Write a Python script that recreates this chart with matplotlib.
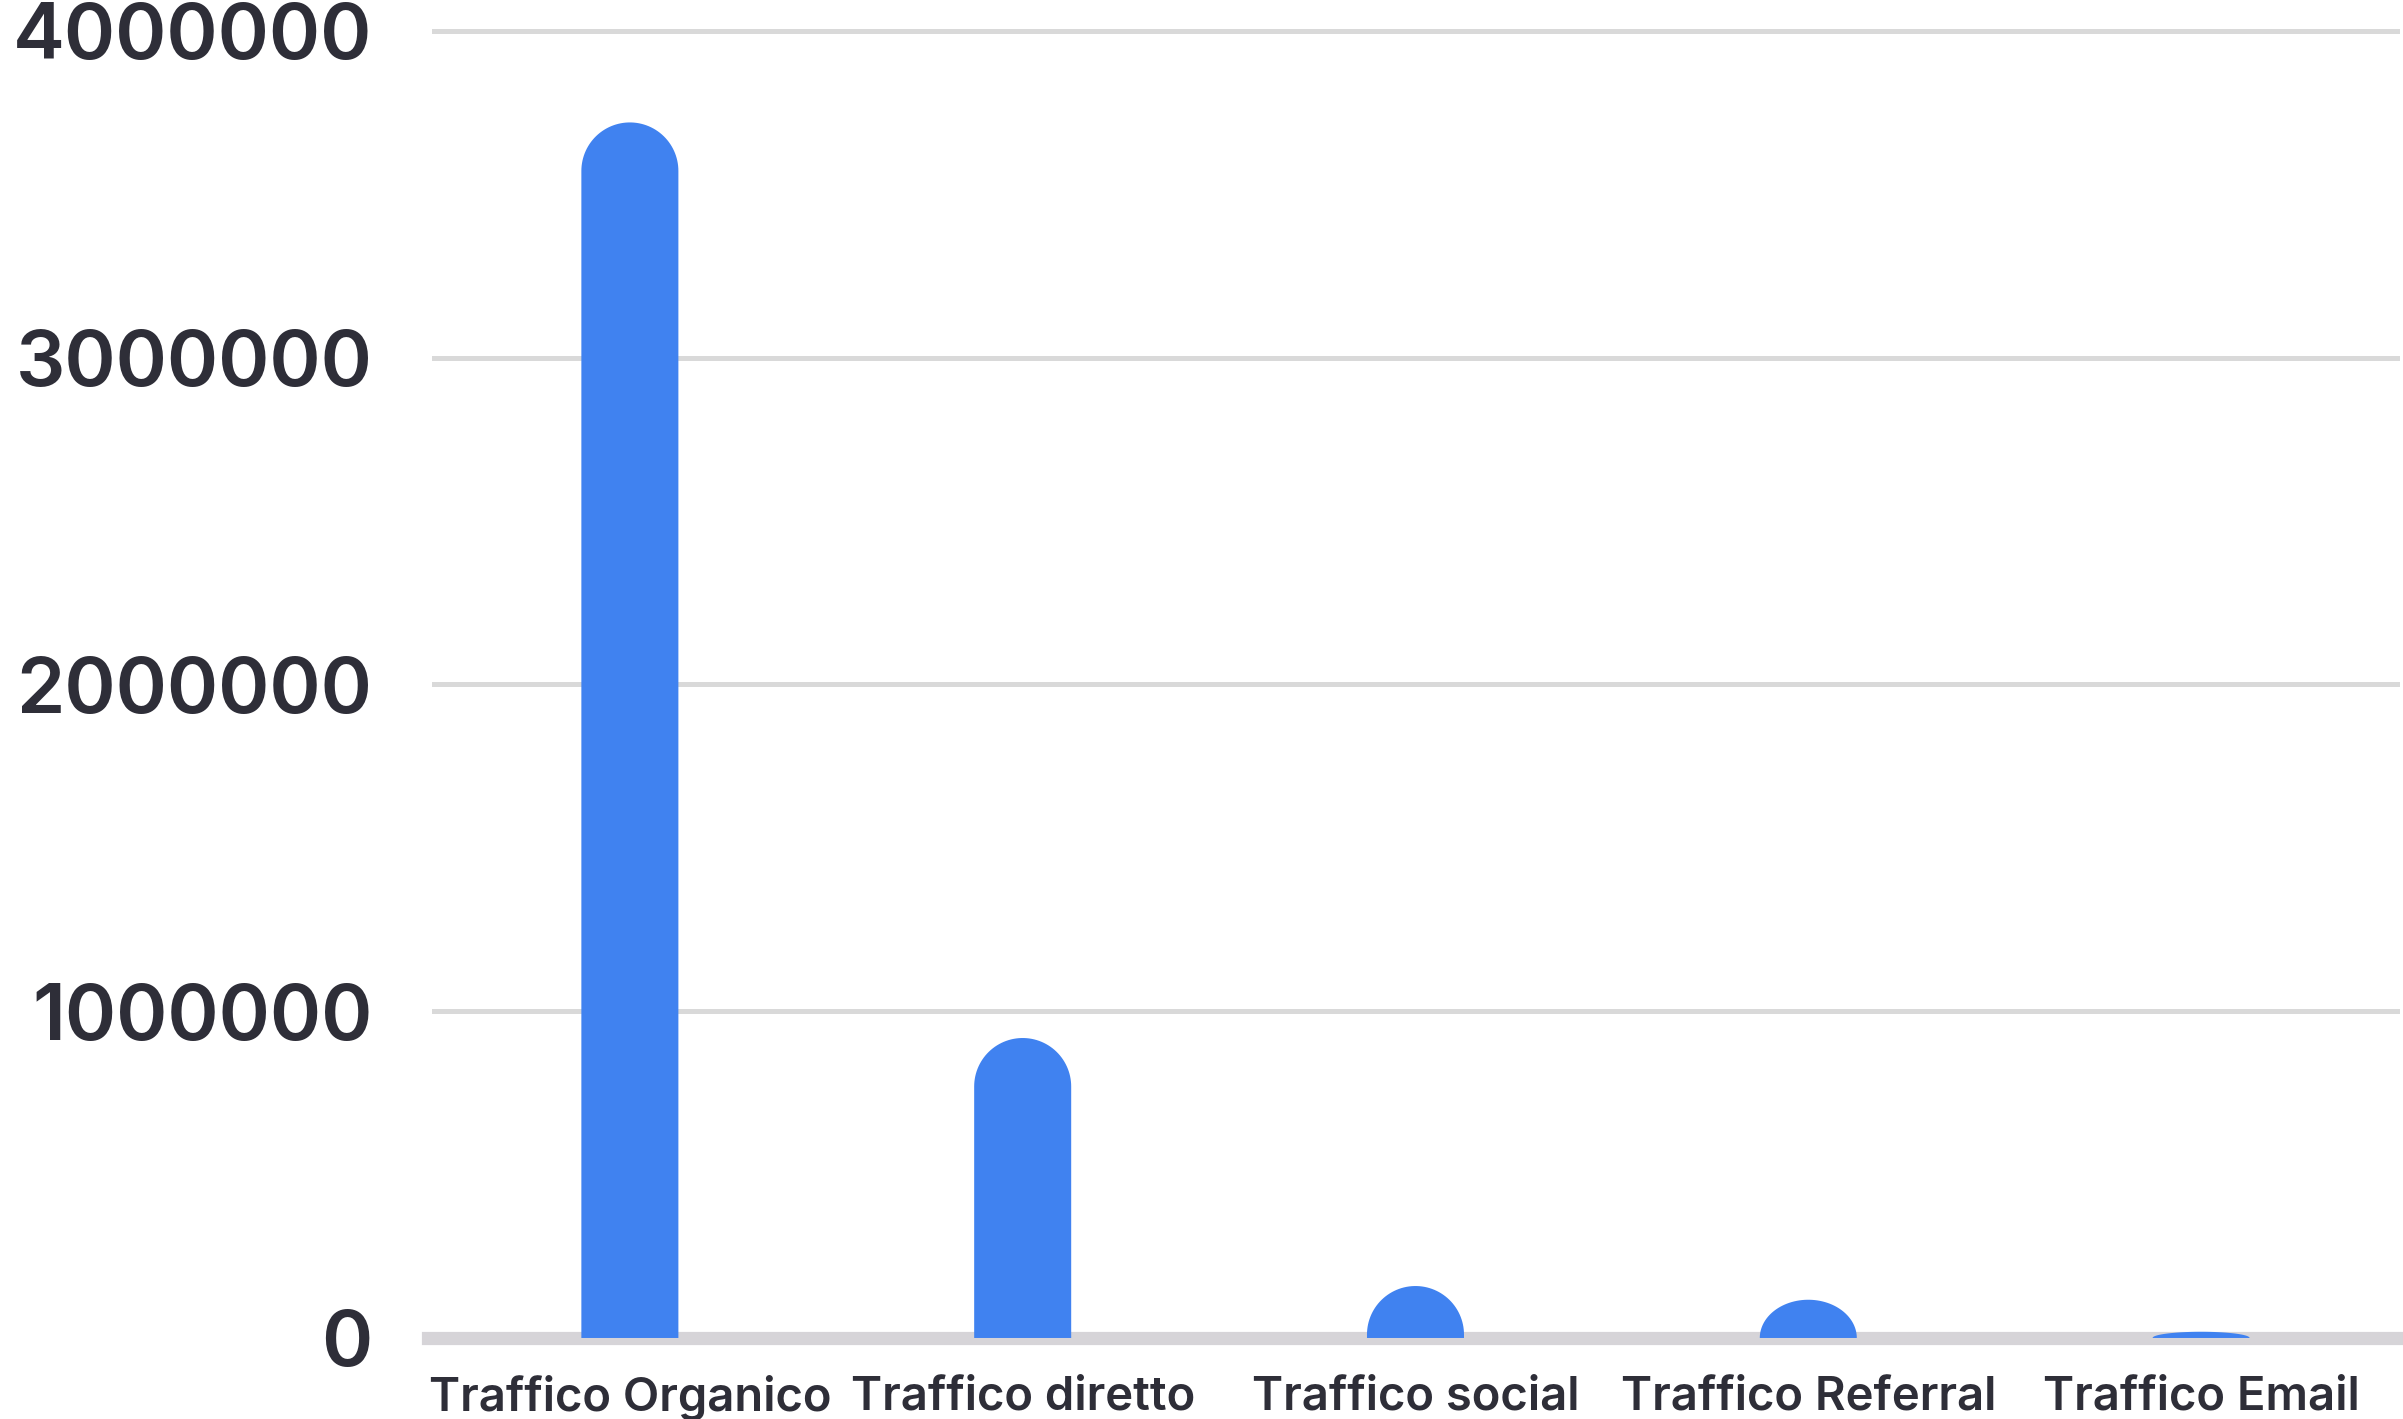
import matplotlib
matplotlib.use('Agg')
import matplotlib.pyplot as plt
import numpy as np
from matplotlib.path import Path
from matplotlib.patches import PathPatch

categories = ['Traffico Organico', 'Traffico diretto', 'Traffico social',
              'Traffico Referral', 'Traffico Email']
values = [3720000, 918000, 159000, 117000, 19000]
y_ticks = [0, 1000000, 2000000, 3000000, 4000000]
y_tick_labels = ['0', '1000000', '2000000', '3000000', '4000000']

BAR_COLOR = '#4082F0'
TEXT_COLOR = '#2E2E38'
GRID_COLOR = '#D9D9D9'
BASE_COLOR = '#D6D4D8'

plt.rcParams['font.family'] = ['Inter', 'DejaVu Sans']
plt.rcParams['font.weight'] = 'semibold'

fig = plt.figure(figsize=(24.03, 14.19), dpi=100)
ax = fig.add_axes([0.1781, 0.0571, 0.8219, 0.9211])
n = len(categories)
x = np.arange(n)
ax.set_xlim(-0.514, n - 1 + 0.514)
ax.set_ylim(0, 4000000)

for s in ax.spines.values():
    s.set_visible(False)

# grid lines
x0 = 0.003
for t in y_ticks[1:]:
    ax.axhline(t, xmin=x0, xmax=0.997, color=GRID_COLOR, lw=3.6, zorder=1, clip_on=False)
ax.axhline(0, xmin=0, xmax=1, color=BASE_COLOR, lw=9.5, zorder=1, clip_on=False)

bar_w = 0.247
fig.canvas.draw()
px_per_x = ax.transData.transform((1, 0))[0] - ax.transData.transform((0, 0))[0]
px_per_y = ax.transData.transform((0, 1e6))[1] - ax.transData.transform((0, 0))[1]
r_px = bar_w * px_per_x / 2
cap_data = r_px / px_per_y * 1e6

theta = np.linspace(np.pi, 0, 60)
for xi, v in zip(x, values):
    ch = min(cap_data, v)
    straight = v - ch
    verts = [(xi - bar_w / 2, 0), (xi - bar_w / 2, straight)]
    verts += [(xi + bar_w / 2 * np.cos(t), straight + ch * np.sin(t)) for t in theta]
    verts += [(xi + bar_w / 2, 0), (xi - bar_w / 2, 0)]
    codes = [Path.MOVETO] + [Path.LINETO] * (len(verts) - 2) + [Path.CLOSEPOLY]
    ax.add_patch(PathPatch(Path(verts, codes), facecolor=BAR_COLOR, edgecolor='none', zorder=3))

ax.set_yticks(y_ticks)
ax.set_yticklabels(y_tick_labels)
ax.set_xticks(x)
ax.set_xticklabels(categories)
ax.tick_params(axis='y', length=0, pad=40, labelsize=56, labelcolor=TEXT_COLOR)
ax.tick_params(axis='x', length=0, pad=27, labelsize=34, labelcolor=TEXT_COLOR)

fig.savefig('out.png', dpi=100, facecolor='white')
